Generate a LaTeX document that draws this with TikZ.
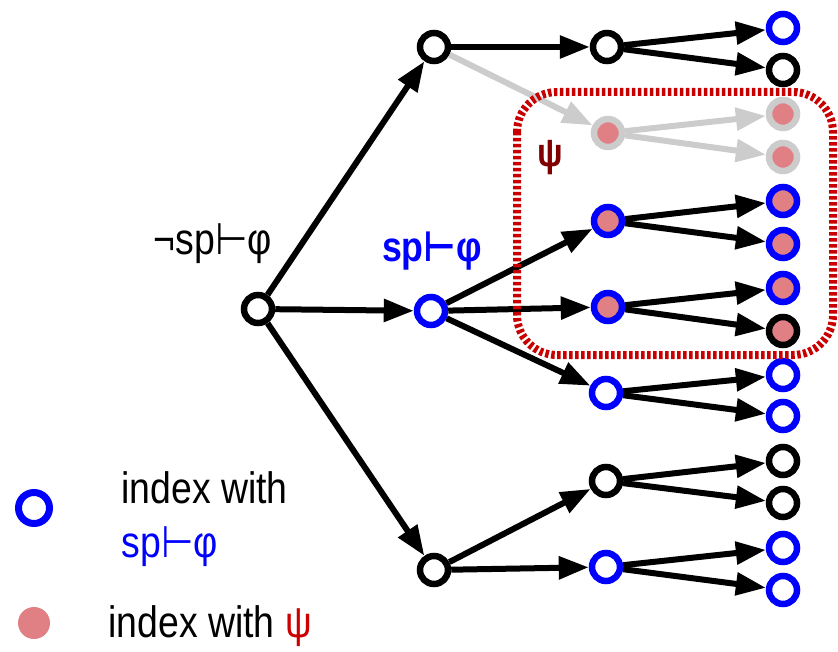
\documentclass[tikz,border=0pt]{standalone}
\usepackage{fontspec}
\setmainfont{Liberation Sans}[FakeStretch=0.85]
\newfontfamily\symfont{DejaVu Sans}[FakeStretch=0.85]
\usetikzlibrary{arrows.meta}
\definecolor{psipink}{RGB}{224,128,133}
\definecolor{psired}{RGB}{204,0,0}
\definecolor{darkpsi}{RGB}{128,0,0}
\definecolor{boxred}{RGB}{200,0,0}
\definecolor{edgegray}{RGB}{204,204,204}
\newcommand{\proves}{{\symfont ⊢}}
\begin{document}
\begin{tikzpicture}[x=1pt,y=-1pt,font=\fontsize{44}{50}\selectfont,
    vtx/.style={circle,draw=black,line width=6.5pt,minimum size=28pt,inner sep=0pt,fill=white},
    blk/.style={},
    blu/.style={draw=blue},
    psi/.style={fill=psipink},
    bpsi/.style={blu,psi},
    gpsi/.style={draw=edgegray,psi},
    arr/.style={line width=6pt,-{Triangle[length=30pt,width=22pt]}},
    garr/.style={arr,draw=edgegray}]
    \useasboundingbox (0,0) rectangle (838,652);
    % root and first level
    \node[vtx] (r) at (258,309) {};
    \node[vtx] (a) at (434,47) {};
    \node[vtx,blu] (b) at (431,311) {};
    \node[vtx] (c) at (434,570) {};
    % second level
    \node[vtx] (a1) at (607,47) {};
    \node[vtx,gpsi] (a2) at (608,133) {};
    \node[vtx,bpsi] (b1) at (608,221) {};
    \node[vtx,bpsi] (b2) at (608,307) {};
    \node[vtx,blu] (b3) at (606,393) {};
    \node[vtx] (c1) at (606,481) {};
    \node[vtx,blu] (c2) at (606,567) {};
    % leaves
    \foreach \n/\y/\s in {1/28/blu,2/70/blk,3/114/gpsi,4/157/gpsi,5/201/bpsi,6/244/bpsi,7/288/bpsi,
        8/331/psi,9/375/blu,10/416/blu,11/461/blk,12/503/blk,13/548/blu,14/590/blu}
        \node[vtx,\s] (l\n) at (783,\y) {};
    % edges
    \foreach \s/\t in {r/a,r/b,r/c,a/a1,b/b1,b/b2,b/b3,c/c1,c/c2,a1/l1,a1/l2,b1/l5,b1/l6,
        b2/l7,b2/l8,b3/l9,b3/l10,c1/l11,c1/l12,c2/l13,c2/l14}
        \draw[arr] (\s)--(\t);
    \foreach \s/\t in {a/a2,a2/l3,a2/l4}
        \draw[garr] (\s)--(\t);
    % the psi region
    \draw[boxred,line width=8pt,dash pattern=on 3.5pt off 2.5pt,rounded corners=40pt]
        (517,92) rectangle (833,355);
    \node[text=darkpsi,font=\fontsize{40}{48}\selectfont\bfseries] (psilab) at (550,158) {ψ};
    % labels
    \node[anchor=base] (neg) at (213,255) {¬sp\proves φ};
    \node[anchor=base,text=blue,font=\fontsize{42}{48}\selectfont\bfseries] (pos) at (432,262) {sp\proves φ};
    % legend
    \node[vtx,blu,minimum size=31pt,line width=7pt] (keyb) at (34,508) {};
    \node[circle,fill=psipink,minimum size=32pt,inner sep=0pt] (keyp) at (34,623) {};
    \node[anchor=base west] (keybt) at (118,503) {index with};
    \node[anchor=base west,text=blue] (keybs) at (118,557) {sp\proves φ};
    \node[anchor=base west] (keypt) at (105,637) {index with \textcolor{psired}{ψ}};
\end{tikzpicture}
\end{document}
